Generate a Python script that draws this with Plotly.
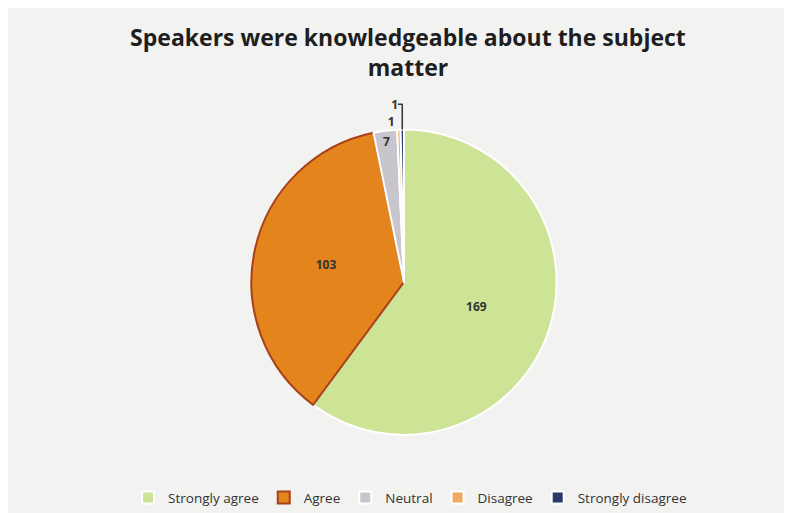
import plotly.graph_objects as go

categories = ["Strongly agree", "Agree", "Neutral", "Disagree", "Strongly disagree"]
values = [169, 103, 7, 1, 1]
colors = ["#cde396", "#e3841c", "#c8c5cc", "#f0a860", "#2b3a6b"]
line_colors = ["#ffffff", "#a8401a", "#ffffff", "#ffffff", "#ffffff"]
text_positions = ["inside", "inside", "inside", "outside", "outside"]

fig = go.Figure(go.Pie(
    labels=categories,
    values=values,
    sort=False,
    direction="clockwise",
    rotation=0,
    marker=dict(colors=colors, line=dict(color=line_colors, width=2)),
    textinfo="value",
    texttemplate="<b>%{value}</b>",
    textposition=text_positions,
    textfont=dict(family="Open Sans, sans-serif", size=12, color="#333333"),
    insidetextorientation="horizontal",
    domain=dict(x=[0.111, 0.911], y=[0.168, 0.763]),
    hole=0,
))

fig.update_layout(
    width=792, height=513,
    paper_bgcolor="#f2f2f0",
    plot_bgcolor="#f2f2f0",
    margin=dict(l=0, r=0, t=0, b=0),
    title=dict(
        text="<b>Speakers were knowledgeable about the subject<br>matter</b>",
        x=0.505, xanchor="center", y=0.925, yanchor="top",
        font=dict(family="Open Sans, sans-serif", size=23, color="#1e1e1e"),
    ),
    legend=dict(
        orientation="h", x=0.52, xanchor="center", y=0.015, yanchor="bottom",
        font=dict(family="Open Sans, sans-serif", size=13.5, color="#333333"),
        traceorder="normal", itemwidth=30,
    ),
)

fig.write_html("out.html")
